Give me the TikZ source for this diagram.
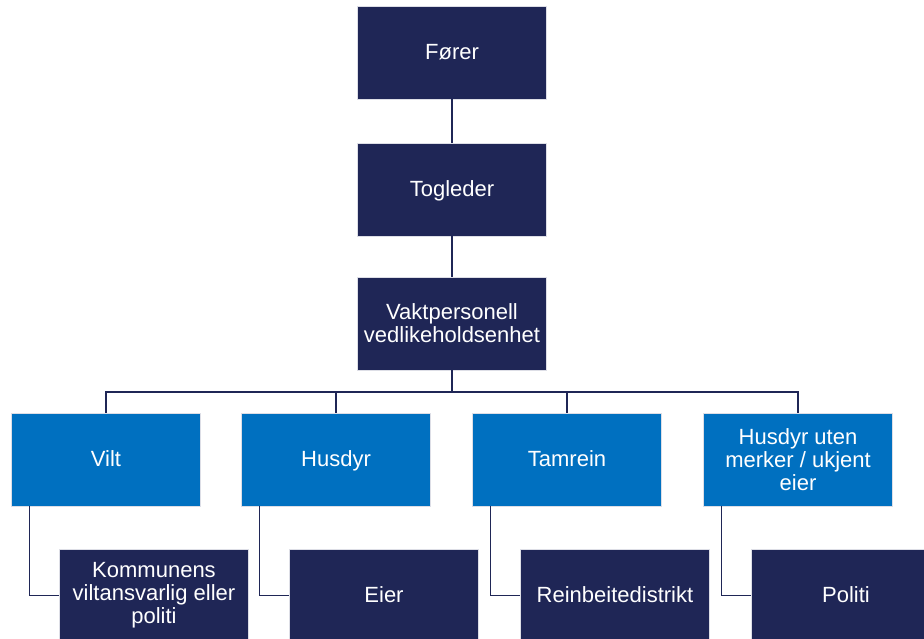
\documentclass[tikz,border=0pt]{standalone}
\usepackage{fontspec}
\setmainfont{Liberation Sans}
\usepackage{tikz}

\definecolor{navy}{HTML}{1F2656}
\definecolor{lysblaa}{HTML}{0070C0}

\tikzset{
  boks/.style={fill=navy, draw=white!85!navy, line width=0.6pt, text=white,
    minimum width=189pt, minimum height=93pt, inner sep=0pt, align=center,
    font=\fontsize{22}{23}\selectfont},
  blaaboks/.style={boks, fill=lysblaa},
  enlinje/.style={text height=17pt, text depth=3pt},
  linje/.style={draw=navy, line width=1.4pt}
}

\begin{document}
\begin{tikzpicture}[x=1pt,y=-1pt]
\useasboundingbox (0,0) rectangle (924,639);
\clip (0,0) rectangle (924,639);
\path   (452, 52.5) node[boks,enlinje] (forer) {Fører}
        (452,189.5) node[boks,enlinje] (togleder) {Togleder}
        (452,323.5) node[boks] (vakt) {Vaktpersonell\\vedlikeholdsenhet}
        (106,459.5) node[blaaboks,enlinje] (vilt) {Vilt}
        (336,459.5) node[blaaboks,enlinje] (husdyr) {Husdyr}
        (567,459.5) node[blaaboks,enlinje] (tamrein) {Tamrein}
        (798,459.5) node[blaaboks] (uten) {Husdyr uten\\merker / ukjent\\eier}
        (154,595.5) node[boks] (kommune) {Kommunens\\viltansvarlig eller\\politi}
        (384,595.5) node[boks,enlinje] (eier) {Eier}
        (615,595.5) node[boks,enlinje] (reinbeite) {Reinbeitedistrikt}
        (846,595.5) node[boks,enlinje] (politi) {Politi}
        (452,392) coordinate (buss);
\draw[linje] (forer) -- (togleder);
\draw[linje] (togleder) -- (vakt);
\draw[linje] (vakt) -- (buss);
\foreach \gruppe in {vilt,husdyr,tamrein,uten}
	\draw[linje] (\gruppe.north) |- (buss);
\draw[linje] ([xshift=18pt]vilt.south west) |- (kommune.west);
\draw[linje] ([xshift=18pt]husdyr.south west) |- (eier.west);
\draw[linje] ([xshift=18pt]tamrein.south west) |- (reinbeite.west);
\draw[linje] ([xshift=18pt]uten.south west) |- (politi.west);

\end{tikzpicture}
\end{document}
